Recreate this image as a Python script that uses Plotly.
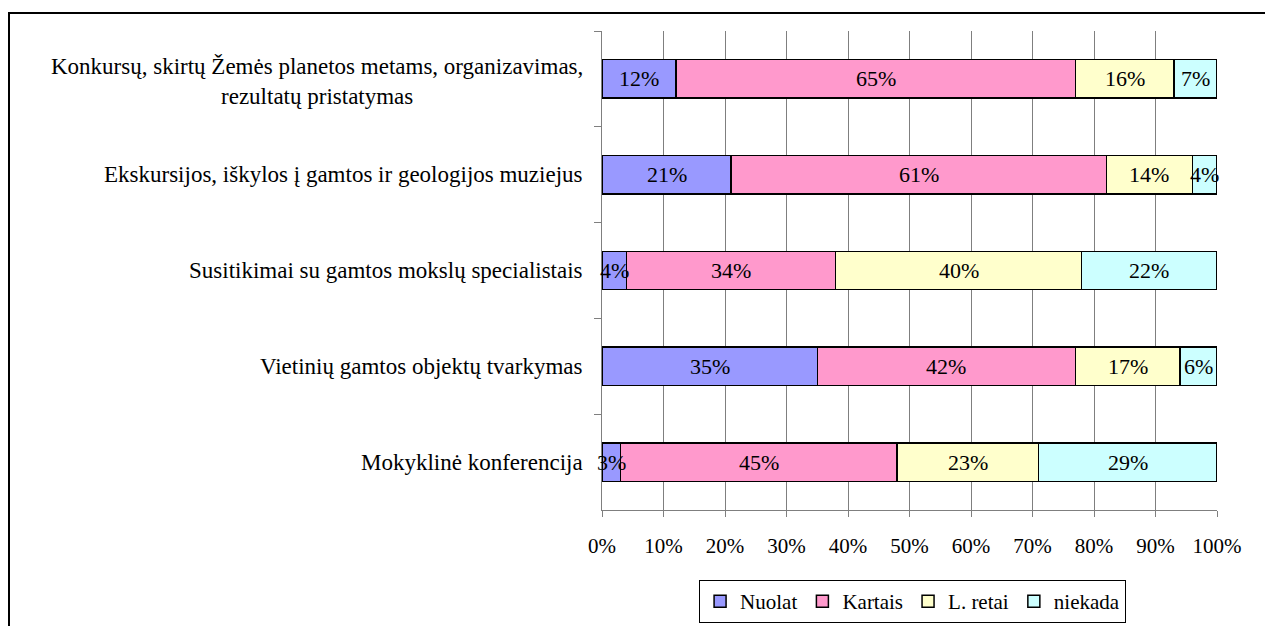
import plotly.graph_objects as go

categories = [
    "Konkursų, skirtų Žemės planetos metams, organizavimas,<br>rezultatų pristatymas",
    "Ekskursijos, iškylos į gamtos ir geologijos muziejus",
    "Susitikimai su gamtos mokslų specialistais",
    "Vietinių gamtos objektų tvarkymas",
    "Mokyklinė konferencija",
]
series_names = ["Nuolat", "Kartais", "L. retai", "niekada"]
nuolat = [12, 21, 4, 35, 3]
kartais = [65, 61, 34, 42, 45]
l_retai = [16, 14, 40, 17, 23]
niekada = [7, 4, 22, 6, 29]
tick_vals = [0, 10, 20, 30, 40, 50, 60, 70, 80, 90, 100]
tick_text = ["0%", "10%", "20%", "30%", "40%", "50%", "60%", "70%", "80%", "90%", "100%"]

colors = ["#9999FF", "#FF99CC", "#FFFFCC", "#CCFFFF"]
FONT = "Liberation Serif"

W, H = 1265, 626
ML, MR, MT, MB = 602, 48, 31, 116
PW = W - ML - MR
PH = H - MT - MB

fig = go.Figure()
all_series = [nuolat, kartais, l_retai, niekada]
for name, vals, col in zip(series_names, all_series, colors):
    fig.add_trace(go.Bar(
        y=categories, x=vals, name=name, orientation="h",
        marker=dict(color=col, line=dict(color="black", width=1.5)),
        hoverinfo="x+name",
    ))

annotations = []
# data labels at segment centres
for i, cat in enumerate(categories):
    cum = 0
    for vals in all_series:
        v = vals[i]
        annotations.append(dict(
            x=cum + v / 2, y=cat, xref="x", yref="y", text=f"{v}%",
            showarrow=False, font=dict(family=FONT, size=22, color="black"),
        ))
        cum += v
# category labels
for i, cat in enumerate(categories):
    annotations.append(dict(
        x=0, y=cat, xref="paper", yref="y", text=cat, showarrow=False,
        xanchor="right", align="center", xshift=-17, yshift=-3 if "<br>" in cat else 0,
        font=dict(family=FONT, size=23, color="black"),
    ))

def px_x(p):
    return (p - ML) / PW

def px_y(p):
    return (H - MB - p) / PH

shapes = [
    dict(type="line", xref="paper", yref="paper", x0=px_x(8), x1=px_x(1300),
         y0=px_y(13), y1=px_y(13), line=dict(color="black", width=2)),
    dict(type="line", xref="paper", yref="paper", x0=px_x(9), x1=px_x(9),
         y0=px_y(12), y1=px_y(660), line=dict(color="black", width=2)),
]

fig.update_layout(
    width=W, height=H, barmode="stack", bargap=0.6,
    margin=dict(l=ML, r=MR, t=MT, b=MB, pad=0, autoexpand=False),
    paper_bgcolor="white", plot_bgcolor="white",
    font=dict(family=FONT, size=21, color="black"),
    showlegend=True,
    legend=dict(
        orientation="h", x=0.505, xanchor="center", y=px_y(580), yanchor="top",
        bordercolor="black", borderwidth=1, font=dict(family=FONT, size=21, color="black"),
        itemwidth=30, traceorder="normal",
    ),
    xaxis=dict(
        range=[0, 100], tickvals=tick_vals, ticktext=tick_text,
        tickfont=dict(family=FONT, size=21, color="black"),
        showgrid=True, gridcolor="#7f7f7f", gridwidth=1,
        showline=True, linecolor="#7f7f7f", linewidth=1,
        ticks="outside", ticklen=6, tickcolor="#7f7f7f",
        ticklabelstandoff=11, zeroline=False, fixedrange=True,
    ),
    yaxis=dict(
        categoryorder="array", categoryarray=categories, autorange="reversed",
        showticklabels=False, tickson="boundaries", ticks="outside", ticklen=7,
        tickcolor="#7f7f7f", showline=True, linecolor="#7f7f7f", linewidth=1,
        showgrid=False, zeroline=False, fixedrange=True,
    ),
    annotations=annotations, shapes=shapes,
)

fig.write_html("out.html", config={"displayModeBar": False},
               post_script="document.body.style.margin='0';")
